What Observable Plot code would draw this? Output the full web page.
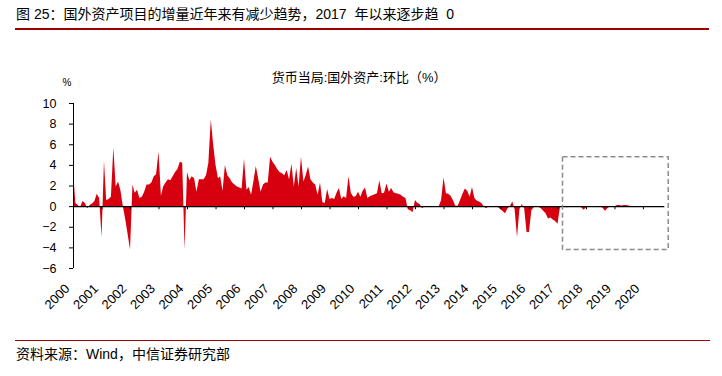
<!DOCTYPE html>
<html><head><meta charset="utf-8">
<script src="https://cdn.jsdelivr.net/npm/d3@7"></script>
<script src="https://cdn.jsdelivr.net/npm/@observablehq/plot@0.6"></script>
<style>
body{margin:0;background:#fff;font-family:"Liberation Sans","Noto Sans CJK SC",sans-serif;}
#wrap{position:relative;width:722px;height:376px;overflow:hidden;}
#title{position:absolute;left:15px;top:0;width:694px;line-height:28px;font-size:14px;color:#000;border-bottom:2px solid #a00000;padding-left:1px;box-sizing:border-box;height:30px;white-space:pre;}
#chart{position:absolute;left:0;top:30px;}
#source{position:absolute;left:15px;top:340px;width:694px;border-top:1.5px solid #a00000;padding-top:5px;padding-left:1px;line-height:16px;font-size:14px;color:#000;}
</style></head>
<body>
<div id="wrap">
  <div id="title">图 25：国外资产项目的增量近年来有减少趋势，2017  年以来逐步趋  0</div>
  <div id="chart"></div>
  <div id="source">资料来源：Wind，中信证券研究部</div>
</div>
<script>
// Monthly values (%), Jan..Dec of each year
const v2000 = [3.4, 0.3, 0.1, -0.1, 0.5, 0.3, -0.2, 0.1, 0.25, 0.5, 1.2, 0.8];
const v2001 = [-3.0, 4.4, 0.6, 0.7, 0.9, 5.7, 1.9, 2.4, 1.5, 0.0, -1.3, -2.7];
const v2002 = [-4.2, 2.1, 1.3, 1.6, 0.8, 0.9, 1.4, 2.1, 2.1, 2.3, 2.9, 3.1];
const v2003 = [5.3, 1.0, 1.9, 2.3, 2.6, 2.5, 2.9, 3.3, 3.6, 4.3, 4.2, -4.2];
const v2004 = [3.3, 2.5, 2.9, 2.7, 1.4, 2.6, 2.6, 2.6, 3.0, 4.2, 8.4, 6.0];
const v2005 = [4.0, 2.7, 2.9, 1.5, 4.0, 3.0, 2.7, 2.3, 2.1, 1.9, 1.8, 1.7];
const v2006 = [4.6, 1.6, 1.85, 1.1, 2.4, 3.9, 2.7, 1.4, 2.1, 2.3, 2.3, 4.8];
const v2007 = [4.3, 4.0, 3.6, 3.3, 3.2, 3.0, 3.5, 2.6, 4.1, 1.9, 3.7, 1.9];
const v2008 = [4.8, 2.4, 3.0, 3.85, 2.6, 2.3, 2.1, 1.1, 2.3, 0.4, 0.3, 1.65];
const v2009 = [0.7, 0.8, 0.7, 1.3, 1.75, 0.7, 0.95, 0.8, 2.9, 1.3, 0.9, 0.95];
const v2010 = [1.4, 0.9, 1.5, 1.8, 0.8, 0.95, 1.05, 1.15, 1.25, 2.5, 1.25, 1.3];
const v2011 = [2.2, 1.4, 1.75, 1.35, 1.25, 1.2, 1.1, 0.9, 0.8, -0.3, -0.4, -0.6];
const v2012 = [0.6, 0.3, 0.2, -0.2, 0.0, 0.0, 0.0, 0.0, 0.0, 0.0, 0.0, 0.6];
const v2013 = [2.8, 1.25, 1.2, 1.0, 0.6, 0.03, 0.03, 0.6, 1.2, 1.7, 1.5, 0.9];
const v2014 = [1.85, 0.8, 0.55, 0.45, 0.3, 0.0, -0.2, 0.0, 0.0, 0.0, 0.0, -0.1];
const v2015 = [-0.3, -0.5, -0.7, -0.2, 0.0, 0.45, -0.3, -3.0, -0.3, 0.2, -0.2, -2.5];
const v2016 = [-2.5, -0.4, -0.1, 0.0, -0.05, -0.2, -0.45, -0.7, -1.2, -1.1, -1.3, -1.45];
const v2017 = [-1.7, -0.1, -0.05, -0.05, -0.1, -0.05, 0.0, 0.0, 0.0, -0.05, -0.1, -0.35];
const v2018 = [-0.1, 0.0, 0.0, 0.0, 0.0, 0.0, 0.0, -0.15, -0.45, -0.2, 0.0, 0.0];
const v2019 = [0.0, 0.1, 0.1, 0.05, 0.1, 0.1, 0.05, 0.0, 0.0, 0.0, 0.0, 0.0];
const v2020 = [0.0, 0.0, 0.0, 0.0, 0.0, 0.0, 0.0, 0.0, 0.0, 0.0];

const years = [2000,2001,2002,2003,2004,2005,2006,2007,2008,2009,2010,2011,2012,2013,2014,2015,2016,2017,2018,2019,2020];
const yearValues = [v2000,v2001,v2002,v2003,v2004,v2005,v2006,v2007,v2008,v2009,v2010,v2011,v2012,v2013,v2014,v2015,v2016,v2017,v2018,v2019,v2020];
const yTicks = [-6, -4, -2, 0, 2, 4, 6, 8, 10];
const tickLabels = years.map(String);
const chartTitle = ["货币当局:国外资产:环比（%）"];
const yUnit = ["%"];
// highlighted period box (dashed)
const boxStart = ["2017-03-06"];
const boxEnd = ["2020-11-20"];
const boxHigh = [4.8];
const boxLow = [-4.2];

const data = [];
years.forEach((y, i) => yearValues[i].forEach((v, m) => data.push({date: new Date(Date.UTC(y, m, 1)), value: v})));
const tickDates = years.map(y => new Date(Date.UTC(y, 0, 1)));
const xStart = data[0].date, xEnd = data[data.length - 1].date;
const boxes = boxStart.map((s, i) => ({x1: new Date(s), x2: new Date(boxEnd[i]), y1: boxLow[i], y2: boxHigh[i]}));

const font = '"Liberation Sans","Noto Sans CJK SC",sans-serif';
const chart = Plot.plot({
  width: 722, height: 310,
  marginLeft: 73, marginRight: 57.7, marginTop: 73, marginBottom: 72,
  style: {fontFamily: font, fontSize: "12.5px", color: "#000", background: "transparent", overflow: "visible"},
  x: {type: "utc", domain: [xStart, xEnd]},
  y: {domain: [yTicks[0], yTicks[yTicks.length - 1]]},
  marks: [
    Plot.areaY(data, {x: "date", y: "value", fill: "#d7000f"}),
    Plot.ruleY([0], {stroke: "#000", strokeWidth: 1.3}),
    Plot.ruleX(tickDates, {x: d => d, y1: 0, y2: -0.3, stroke: "#000", strokeWidth: 1}),
    Plot.ruleX([xStart], {y1: yTicks[0], y2: yTicks[yTicks.length - 1], stroke: "#000", strokeWidth: 1}),
    Plot.axisY({ticks: yTicks, tickSize: 4, tickPadding: 13, label: null, stroke: "#000"}),
    Plot.axisX({ticks: tickDates, tickFormat: (d, i) => tickLabels[i], tickSize: 0, tickRotate: -45, tickPadding: 18, dx: -6, fontSize: 13, label: null}),
    Plot.rect(boxes, {x1: "x1", x2: "x2", y1: "y1", y2: "y2", fill: "none", stroke: "#8c8c8c", strokeWidth: 1.5, strokeDasharray: "5,3"}),
    Plot.text(chartTitle, {frameAnchor: "top", dx: -10, dy: -31, fontSize: 13, fill: "#000"}),
    Plot.text(yUnit, {frameAnchor: "top-left", dx: -11, dy: -25, fontSize: 10, fill: "#000"})
  ]
});
document.getElementById("chart").appendChild(chart);
</script>
</body></html>
